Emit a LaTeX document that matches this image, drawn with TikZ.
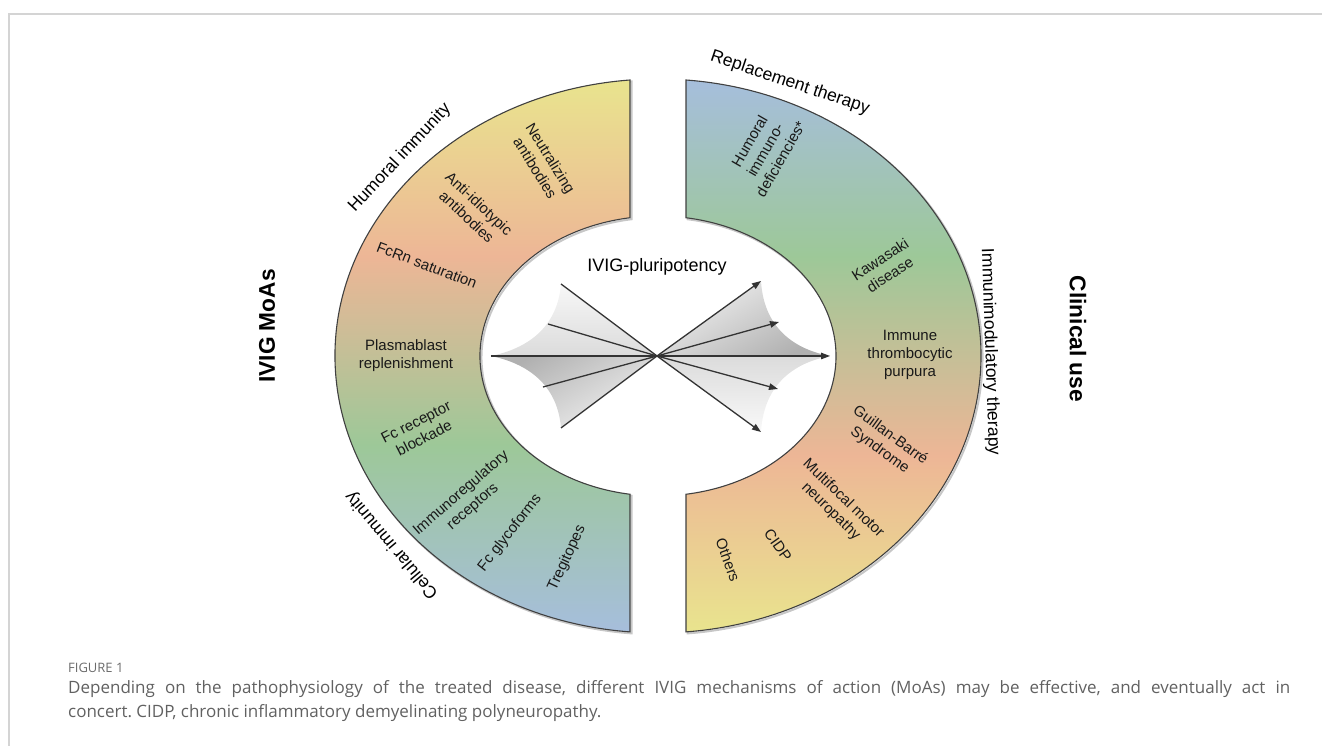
\documentclass[tikz,border=0pt]{standalone}
\usepackage{fontspec}
\setmainfont{Liberation Sans}
\newfontfamily\captionfont{Open Sans}
\usetikzlibrary{arrows.meta}

\definecolor{ringyellow}{RGB}{233,228,142}
\definecolor{ringsalmon}{RGB}{237,182,150}
\definecolor{ringgreen}{RGB}{157,200,152}
\definecolor{ringblue}{RGB}{166,190,220}
\definecolor{framegray}{RGB}{212,212,212}

\pgfdeclareverticalshading{moaring}{100bp}{color(0bp)=(ringblue); color(25bp)=(ringblue);
  color(42bp)=(ringgreen); color(59bp)=(ringsalmon); color(75bp)=(ringyellow); color(100bp)=(ringyellow)}
\pgfdeclareverticalshading{clinring}{100bp}{color(0bp)=(ringyellow); color(25bp)=(ringyellow);
  color(41bp)=(ringsalmon); color(59bp)=(ringgreen); color(75bp)=(ringblue); color(100bp)=(ringblue)}

\begin{document}
\frenchspacing
\begin{tikzpicture}[x=1pt, y=1pt,
    ringedge/.style={draw=black!75, line width=1.1pt},
    ringshadow/.style={draw=black!22, line width=2pt, xshift=1.5pt, yshift=-1.5pt},
    ringtext/.style={font=\fontsize{15}{18}\selectfont, align=center, inner sep=0pt, text=black!90},
    arclabel/.style={font=\fontsize{17.5}{20}\selectfont, inner sep=0pt},
    sidelabel/.style={font=\bfseries\fontsize{22.7}{26}\selectfont, inner sep=0pt},
    fanline/.style={draw=black!80, line width=1.3pt},
    fanarrow/.style={fanline, -{Triangle[length=9pt,width=6.5pt]}},
    captext/.style={font=\captionfont\fontsize{17}{19}\selectfont, text=black!62, anchor=west, inner sep=0pt}]
  \useasboundingbox (-658,-390) rectangle (664,356);
  % frame of the figure
  \draw[framegray, line width=1.5pt] (-649,-390) -- (-649,342) -- (664,342);

  % the two half rings (soft shadow first)
  \draw[ringshadow] (-28,276) arc[start angle=94.97, end angle=265.03, x radius=323, y radius=277]
    -- (-28,-138.26) arc[start angle=260.95, end angle=99.05, x radius=178, y radius=140] -- cycle;
  \draw[ringshadow] (28,276) arc[start angle=85.03, end angle=-85.03, x radius=323, y radius=277]
    -- (28,-138.26) arc[start angle=-80.95, end angle=80.95, x radius=178, y radius=140] -- cycle;
  \draw[ringedge, shading=moaring] (-28,276) arc[start angle=94.97, end angle=265.03, x radius=323, y radius=277]
    -- (-28,-138.26) arc[start angle=260.95, end angle=99.05, x radius=178, y radius=140] -- cycle;
  \draw[ringedge, shading=clinring] (28,276) arc[start angle=85.03, end angle=-85.03, x radius=323, y radius=277]
    -- (28,-138.26) arc[start angle=-80.95, end angle=80.95, x radius=178, y radius=140] -- cycle;

  % fan in the middle
  \coordinate (hub) at (-1,0);
  \coordinate (l1) at (-97,72);
  \coordinate (l2) at (-110,32);
  \coordinate (l3) at (-167,0);
  \coordinate (l4) at (-115,-31);
  \coordinate (l5) at (-97,-72);
  \coordinate (r1) at (103,75);
  \coordinate (r2) at (121,34);
  \coordinate (r3) at (172,0);
  \coordinate (r4) at (120,-33);
  \coordinate (r5) at (103,-76);
  \shade[top color=gray!6, bottom color=gray!28] (hub) -- (l1) .. controls (-101,23) and (-138,6) .. (l3) -- cycle;
  \shade[top color=gray!62, bottom color=gray!10, shading angle=30] (hub) -- (l5) .. controls (-101,-23) and (-138,-6) .. (l3) -- cycle;
  \shade[top color=gray!10, bottom color=gray!62, shading angle=30] (hub) -- (r1) .. controls (106,25) and (140,6) .. (r3) -- cycle;
  \shade[top color=gray!28, bottom color=gray!5] (hub) -- (r5) .. controls (106,-25) and (140,-6) .. (r3) -- cycle;
  \foreach \i in {1,...,5} {
    \draw[fanline] (l\i) -- (hub);
    \draw[fanarrow] (hub) -- (r\i);
  }
  \node[arclabel, font=\fontsize{18}{20}\selectfont] (pluri) at (-1,89) {IVIG-pluripotency};

  % mechanisms of action
  \node[ringtext, rotate=-58] (neutral) at (-115,193) {Neutralizing\\antibodies};
  \node[ringtext, rotate=-43] (antiidio) at (-185,146) {Anti-idiotypic\\antibodies};
  \node[ringtext, rotate=-21] (fcrn) at (-231,91) {FcRn saturation};
  \node[ringtext] (plasma) at (-252,0) {Plasmablast\\replenishment};
  \node[ringtext, rotate=27] (fcblock) at (-238,-74) {Fc receptor\\blockade};
  \node[ringtext, rotate=41] (immreg) at (-191,-144) {Immunoregulatory\\receptors};
  \node[ringtext, rotate=52] (glyco) at (-148,-177) {Fc glycoforms};
  \node[ringtext, rotate=65] (tregi) at (-91,-202) {Tregitopes};

  % clinical use
  \node[ringtext, rotate=60] (humdef) at (107,206) {Humoral\\immuno-\\deficiencies*};
  \node[ringtext, rotate=33] (kawa) at (227,89) {Kawasaki\\disease};
  \node[ringtext] (itp) at (252,1) {Immune\\thrombocytic\\purpura};
  \node[ringtext, rotate=-36] (gbs) at (227,-87) {Guillan-Barré\\Syndrome};
  \node[ringtext, rotate=-44] (mmn) at (179,-149) {Multifocal motor\\neuropathy};
  \node[ringtext, rotate=-55] (cidp) at (120,-189) {CIDP};
  \node[ringtext, rotate=-70] (others) at (70,-204) {Others};

  % labels round the rings
  \node[arclabel, rotate=47] (humoral) at (-258,198) {Humoral immunity};
  \node[arclabel, rotate=130] (cellular) at (-266,-189) {Cellular immunity};
  \node[arclabel, rotate=-18.6] (replace) at (132,273) {Replacement therapy};
  \node[arclabel, rotate=-88] (immmod) at (332,4) {Immunimodulatory therapy};
  \node[sidelabel, rotate=90] (moas) at (-391,30) {IVIG MoAs};
  \node[sidelabel, rotate=-90] (clinical) at (420,17) {Clinical use};

  % caption
  \node[captext, font=\captionfont\fontsize{13}{14}\selectfont, text=black!58] (figno) at (-590,-312) {FIGURE 1};
  \node[captext] (cap1) at (-590,-333) {\makebox[1222pt][s]{Depending on the pathophysiology of the treated disease, different IVIG mechanisms of action (MoAs) may be effective, and eventually act in}};
  \node[captext] (cap2) at (-590,-357) {concert. CIDP, chronic inflammatory demyelinating polyneuropathy.};
\end{tikzpicture}
\end{document}
